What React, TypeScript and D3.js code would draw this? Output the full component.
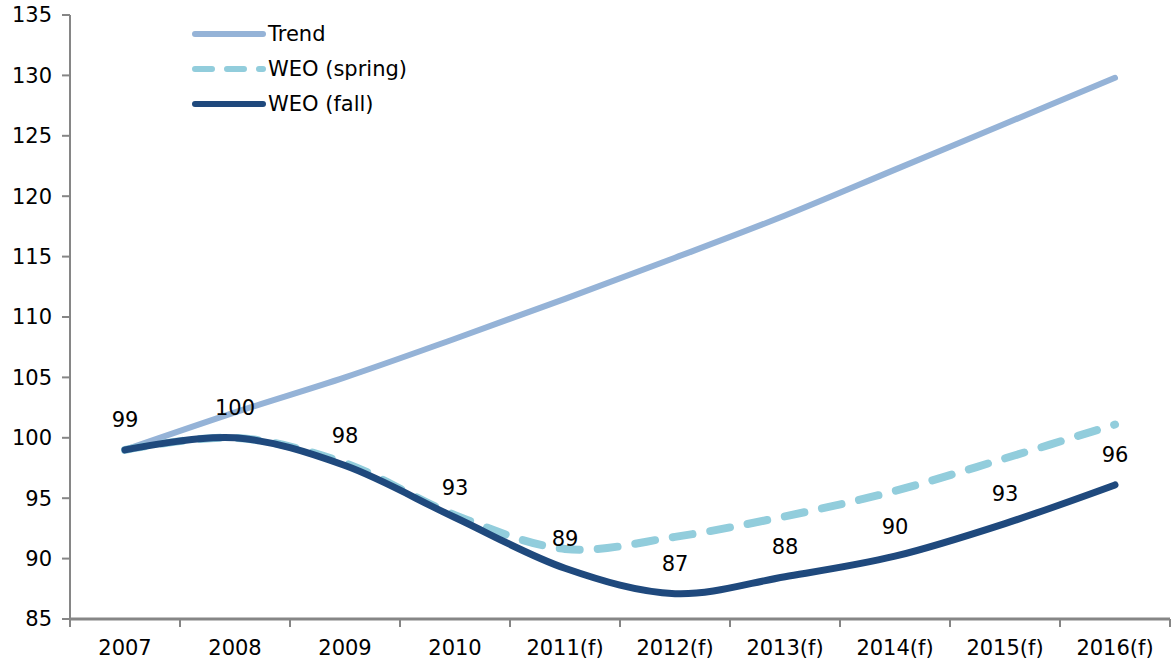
import React from 'react';
import * as d3 from 'd3';

// data
const years = ['2007', '2008', '2009', '2010', '2011(f)', '2012(f)', '2013(f)', '2014(f)', '2015(f)', '2016(f)'];
const trend = [99, 102.1, 105.0, 108.2, 111.5, 114.9, 118.4, 122.2, 126.0, 129.8];
const weoSpring = [99, 100, 97.9, 93.6, 90.8, 91.8, 93.5, 95.6, 98.3, 101.1];
const weoFall = [99, 100, 97.7, 93.4, 89.2, 87.1, 88.5, 90.2, 92.9, 96.1];
const fallLabels = ['99', '100', '98', '93', '89', '87', '88', '90', '93', '96'];
const yTicks = [85, 90, 95, 100, 105, 110, 115, 120, 125, 130, 135];

const W = 1172,
  H = 663;
const margin = { top: 15, right: 2, bottom: 44, left: 70 };
const font = '"DejaVu Sans", Verdana, sans-serif';
const fs = 21;
const axisColor = '#868686';

const series = [
  { name: 'Trend', values: trend, color: '#95B3D7', width: 6, dash: null },
  { name: 'WEO (spring)', values: weoSpring, color: '#92CDDC', width: 8, dash: '20 18' },
  { name: 'WEO (fall)', values: weoFall, color: '#1F497D', width: 7, dash: null },
];

export default function App() {
  const x = d3
    .scaleBand()
    .domain(years)
    .range([margin.left, W - margin.right]);
  const y = d3
    .scaleLinear()
    .domain([85, 135])
    .range([H - margin.bottom, margin.top]);

  const cx = (i: number) => (x(years[i]) as number) + x.bandwidth() / 2;

  const line = d3
    .line<number>()
    .x((d, i) => cx(i))
    .y((d) => y(d))
    .curve(d3.curveCardinal.tension(0));

  const baseY = y(85);
  const xTicks = years.map((yr) => x(yr) as number).concat([W - margin.right]);

  return (
    <svg
      width={W}
      height={H}
      style={{ position: 'absolute', left: 0, top: 0, background: '#fff' }}
      fontFamily={font}
    >
      {/* y axis */}
      <line x1={margin.left} x2={margin.left} y1={margin.top} y2={baseY} stroke={axisColor} strokeWidth={2} />
      {yTicks.map((t) => (
        <g key={t}>
          <line x1={margin.left - 8} x2={margin.left} y1={y(t)} y2={y(t)} stroke={axisColor} strokeWidth={2} />
          <text x={margin.left - 18} y={y(t)} dy="0.35em" textAnchor="end" fontSize={fs} fill="#000">
            {t}
          </text>
        </g>
      ))}

      {/* x axis */}
      <line x1={margin.left} x2={W - margin.right} y1={baseY} y2={baseY} stroke={axisColor} strokeWidth={3} />
      {xTicks.map((tx, i) => (
        <line key={i} x1={tx} x2={tx} y1={baseY} y2={baseY + 8} stroke={axisColor} strokeWidth={2} />
      ))}
      {years.map((yr, i) => (
        <text key={yr} x={cx(i)} y={baseY + 29} dy="0.35em" textAnchor="middle" fontSize={fs} fill="#000">
          {yr}
        </text>
      ))}

      {/* lines */}
      {series.map((s) => (
        <path
          key={s.name}
          d={line(s.values) || ''}
          fill="none"
          stroke={s.color}
          strokeWidth={s.width}
          strokeLinecap="round"
          strokeLinejoin="round"
          strokeDasharray={s.dash || undefined}
        />
      ))}

      {/* data labels for WEO (fall) */}
      {fallLabels.map((lb, i) => (
        <text key={i} x={cx(i)} y={y(weoFall[i]) - 30} dy="0.35em" textAnchor="middle" fontSize={fs} fill="#000">
          {lb}
        </text>
      ))}

      {/* legend */}
      {series.map((s, i) => (
        <g key={s.name} transform={'translate(195,' + (34 + i * 35) + ')'}>
          <line
            x1={0}
            x2={68}
            y1={0}
            y2={0}
            stroke={s.color}
            strokeWidth={Math.min(s.width, 6)}
            strokeLinecap="round"
            strokeDasharray={s.dash ? '17 15' : undefined}
          />
          <text x={73} y={0} dy="0.35em" fontSize={fs} fill="#000">
            {s.name}
          </text>
        </g>
      ))}
    </svg>
  );
}
